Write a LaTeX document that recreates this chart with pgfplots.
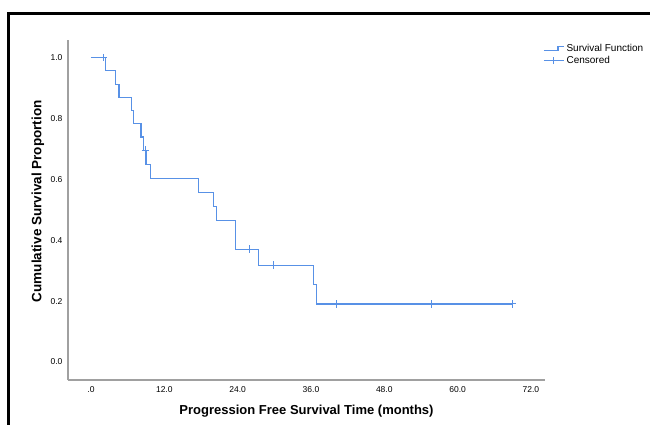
\documentclass[border=0pt]{standalone}
\usepackage{pgfplots}
\pgfplotsset{compat=1.18}
\usepackage{fontspec}
\setmainfont{Liberation Sans}
\definecolor{kmblue}{RGB}{88,145,230}
\definecolor{axgray}{RGB}{160,160,160}
\begin{document}
\begin{tikzpicture}[x=1pt,y=1pt]
\useasboundingbox (0,0) rectangle (650,424);
\clip (0,0) rectangle (650,424);
\fill[white] (0,0) rectangle (650,424);
% outer frame (only top and left edges visible)
\draw[line width=3.5pt] (8.5,-10) -- (8.5,410.5) -- (660,410.5);
\begin{axis}[
  at={(68pt,44pt)}, anchor=south west,
  scale only axis, width=477pt, height=340pt,
  xmin=-3.76, xmax=74.3, ymin=-0.059, ymax=1.058,
  axis x line=bottom, axis y line=left,
  axis line style={axgray, line width=1.5pt, -},
  major tick length=0pt, tick style={draw=none},
  xtick={0,12,24,36,48,60,72},
  xticklabels={.0,12.0,24.0,36.0,48.0,60.0,72.0},
  ytick={0,0.2,0.4,0.6,0.8,1.0},
  yticklabels={0.0,0.2,0.4,0.6,0.8,1.0},
  ticklabel style={font=\fontsize{8.5}{10}\selectfont},
  xticklabel style={yshift=-3pt},
  yticklabel style={xshift=-2pt},
  xlabel={\bfseries Progression Free Survival Time (months)},
  ylabel={\bfseries Cumulative Survival Proportion},
  x label style={at={(axis description cs:0.5,-0.0912)}, anchor=center,
    font=\fontsize{13}{15}\selectfont},
  y label style={at={(axis description cs:-0.0629,0.526)}, anchor=center, rotate=0,
    font=\fontsize{13.5}{15}\selectfont},
  legend style={at={(0.99,1.0)}, anchor=north west, draw=none, fill=none,
    font=\fontsize{10}{12}\selectfont, row sep=-1pt},
  legend cell align=left,
  clip=false,
]
\addplot[kmblue, line width=1.2pt, const plot mark left,
  legend image code/.code={\draw[kmblue,line width=1.1pt] (0pt,-1.7pt) -- (14pt,-1.7pt) -- (14pt,1.7pt) -- (20pt,1.7pt);}]
  coordinates {
  (0,1) (2.4,0.9565) (4.0,0.9130) (4.6,0.8696) (6.6,0.8261) (7.0,0.7826)
  (8.2,0.7391) (8.6,0.6957) (9.0,0.6493) (9.8,0.6029) (17.6,0.5565)
  (20.1,0.5101) (20.6,0.4638) (23.6,0.4174) (23.7,0.3710) (27.4,0.3180)
  (36.4,0.2544) (36.9,0.1908) (69.0,0.1908)};
\addlegendentry{Survival Function}
\addplot[kmblue, only marks, mark=+, mark size=3.8pt, mark options={line width=1pt},
  legend image code/.code={\draw[kmblue,line width=1.1pt] (0pt,0pt) -- (20pt,0pt); \draw[kmblue,line width=1pt] (10pt,-3.8pt) -- (10pt,3.8pt);}]
  coordinates {
  (2.0,1.0) (8.9,0.6957) (26.0,0.3710) (29.9,0.3180)
  (40.2,0.1908) (55.7,0.1908) (69.0,0.1908)};
\addlegendentry{Censored}
\end{axis}
\end{tikzpicture}
\end{document}
